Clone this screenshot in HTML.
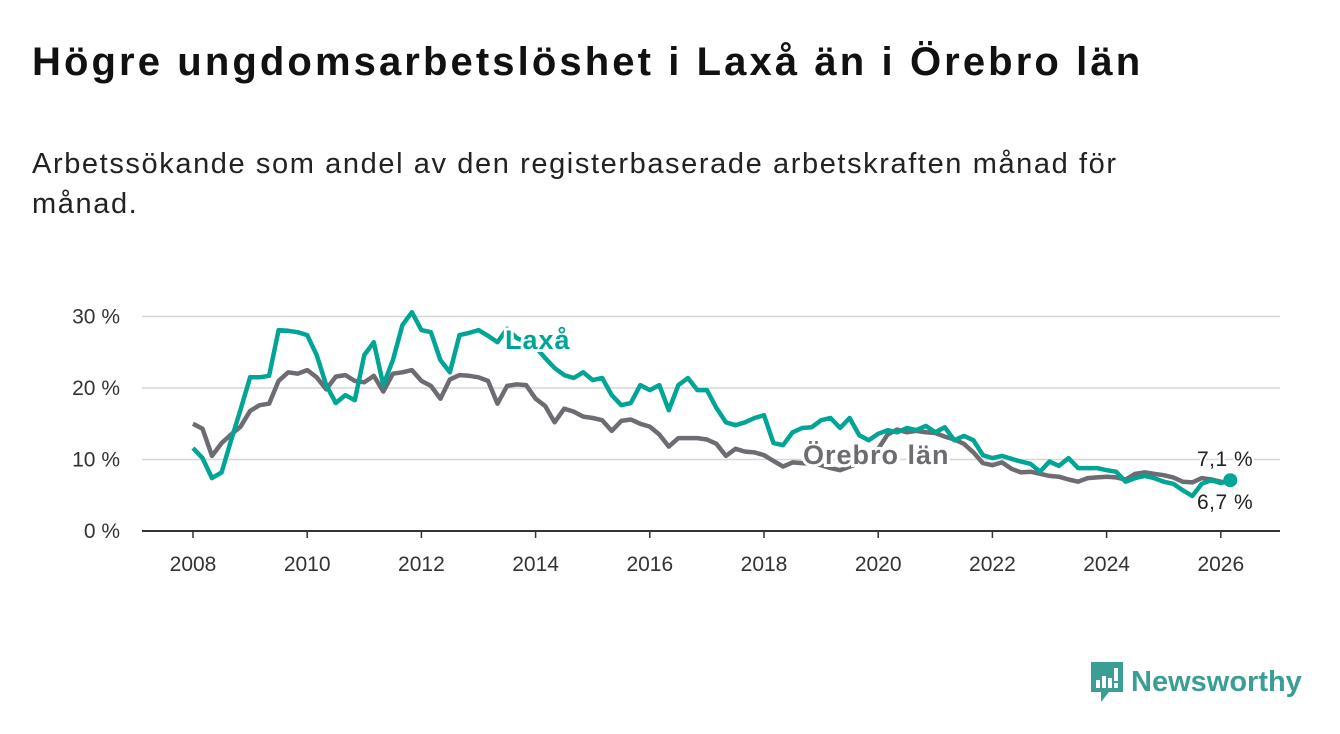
<!DOCTYPE html>
<html><head><meta charset="utf-8"><style>
body{margin:0;width:1340px;height:734px;background:#fff;font-family:"Liberation Sans",sans-serif;overflow:hidden}
h1{position:absolute;left:32px;top:40px;margin:0;font-size:40px;font-weight:bold;color:#111;letter-spacing:3.1px;white-space:nowrap}
.sub{position:absolute;left:32px;top:144px;width:1200px;font-size:29px;line-height:40px;color:#222;letter-spacing:1.6px}
svg{position:absolute;left:0;top:0}
</style></head><body>
<h1>Högre ungdomsarbetslöshet i Laxå än i Örebro län</h1>
<div class="sub">Arbetssökande som andel av den registerbaserade arbetskraften månad för månad.</div>
<svg id="c" width="1340" height="734"></svg>
<script>
const years=[2008,2010,2012,2014,2016,2018,2020,2022,2024,2026];
const yTicks=[0,10,20,30];
const laxa=[11.6,10.2,7.4,8.2,12.7,17,21.5,21.5,21.7,28.1,28,27.8,27.4,24.6,20.4,17.9,19,18.3,24.6,26.4,20.4,23.9,28.8,30.6,28.1,27.8,23.9,22.2,27.4,27.7,28.1,27.3,26.4,28.3,27,26.4,25.7,24.2,22.8,21.8,21.4,22.2,21.1,21.4,19,17.6,17.9,20.4,19.7,20.4,16.9,20.4,21.4,19.7,19.7,17.2,15.2,14.8,15.2,15.8,16.2,12.3,12,13.8,14.4,14.5,15.5,15.8,14.4,15.8,13.4,12.7,13.6,14.1,13.8,14.4,14.1,14.7,13.8,14.5,12.7,13.3,12.7,10.6,10.2,10.5,10.1,9.7,9.4,8.3,9.7,9.1,10.2,8.8,8.8,8.8,8.5,8.3,6.9,7.4,7.7,7.4,6.9,6.6,5.7,4.9,6.6,7.1,6.7,7.1];
const orebro=[15,14.3,10.5,12.3,13.5,14.6,16.8,17.6,17.8,21,22.2,22,22.5,21.5,19.8,21.6,21.8,21,20.8,21.7,19.5,22,22.2,22.5,21,20.3,18.5,21.2,21.8,21.7,21.5,21,17.8,20.3,20.5,20.4,18.5,17.5,15.2,17.1,16.7,16,15.8,15.5,14,15.4,15.6,15,14.6,13.5,11.8,13,13,13,12.8,12.2,10.5,11.5,11.1,11,10.6,9.8,9,9.6,9.5,9.4,9.2,8.8,8.5,9,9.5,9.8,11.5,13.5,14.2,13.8,14,13.8,13.7,13.2,12.8,12.2,11,9.5,9.2,9.6,8.7,8.2,8.3,8,7.7,7.6,7.2,6.9,7.4,7.5,7.6,7.5,7.2,8,8.2,8,7.8,7.5,6.9,6.8,7.4,7.2,6.9,6.7];
const step=2/12, start=2008;
const X=t=>193+(t-2008)*57.1, Y=v=>531-v*7.15;
const svg=document.getElementById('c'), NS='http://www.w3.org/2000/svg';
function mk(tag,at,parent){const e=document.createElementNS(NS,tag);for(const k in at)e.setAttribute(k,at[k]);(parent||svg).appendChild(e);return e;}
yTicks.forEach(v=>{
 if(v>0){const g=mk('line',{x1:142,x2:1280,y1:Y(v),y2:Y(v),stroke:'#d6d6d6','stroke-width':1.5});
 
 }
 const t=mk('text',{x:120,y:Y(v)+7,'text-anchor':'end','font-size':21,fill:'#333','font-family':'Liberation Sans, sans-serif'});t.textContent=v+' %';
 
 
});
const ax=mk('line',{x1:142,x2:1280,y1:531,y2:531,stroke:'#333','stroke-width':2});


years.forEach(y=>{
 const tk=mk('line',{x1:X(y),x2:X(y),y1:531,y2:538,stroke:'#333','stroke-width':1.5});
 
 
 const t=mk('text',{x:X(y),y:571,'text-anchor':'middle','font-size':21,fill:'#333','font-family':'Liberation Sans, sans-serif'});t.textContent=y;
 
 
});
function path(arr){return arr.map((v,i)=>(i?'L':'M')+X(start+i*step).toFixed(1)+','+Y(v).toFixed(1)).join('');}
const gp=mk('path',{d:path(orebro),fill:'none',stroke:'#6e6c72','stroke-width':4.5,'stroke-linejoin':'round'});


const lp=mk('path',{d:path(laxa),fill:'none',stroke:'#00a596','stroke-width':4.5,'stroke-linejoin':'round'});


const last=laxa.length-1;
const dot=mk('circle',{cx:X(start+last*step),cy:Y(laxa[last]),r:7,fill:'#00a596'});


function lbl(x,y,txt,col,name,bold,size){const t=mk('text',{x:x,y:y,'font-size':size,'font-weight':bold?'bold':'normal',fill:col,stroke:'#fff','stroke-width':bold?6:4,'paint-order':'stroke','font-family':'Liberation Sans, sans-serif','letter-spacing':bold?1:0.5});t.textContent=txt;
 
 }
lbl(505,349,'Laxå','#00a596','laxa-label',true,27);
lbl(803,464,'Örebro län','#6e6c72','orebro-label',true,27);
lbl(1197,466,'7,1 %','#222','laxa-end-value',false,21);
lbl(1197,509,'6,7 %','#222','orebro-end-value',false,21);
</script>
<div style="position:absolute;left:1089px;top:660px;display:flex;align-items:center">
<svg width="36" height="44" style="position:static" viewBox="0 0 36 44"><path d="M2 2h32v30H20l-8 10v-10H2z" fill="#3a9e94"/><rect x="7" y="20" width="4" height="8" fill="#fff"/><rect x="13" y="16" width="4" height="12" fill="#fff"/><rect x="19" y="18" width="4" height="10" fill="#fff"/><rect x="25" y="8" width="4" height="13" fill="#fff"/><rect x="25" y="23" width="4" height="5" fill="#fff"/></svg>
<span style="font-size:29px;font-weight:bold;color:#3a9e94;margin-left:6px">Newsworthy</span></div>
</body></html>
